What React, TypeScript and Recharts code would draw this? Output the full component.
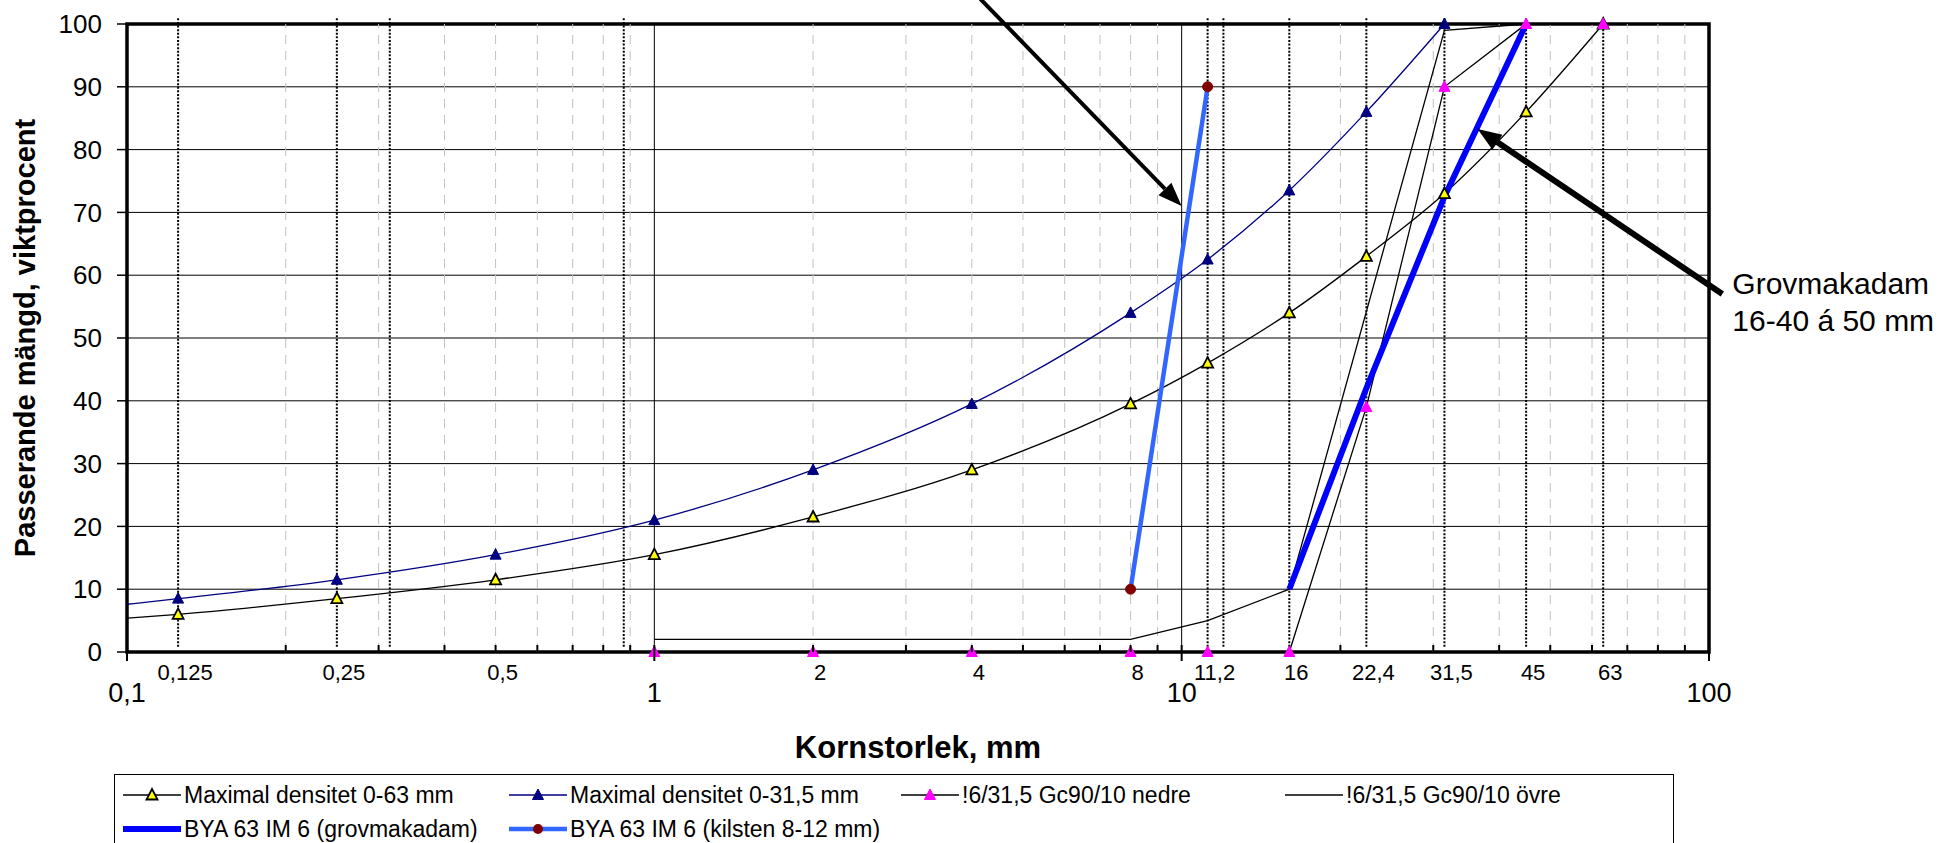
import React from 'react';
import { LineChart, Line, XAxis, YAxis, CartesianGrid, ReferenceLine, ReferenceArea, Legend, Label } from 'recharts';

const FONT = '"Liberation Sans", Arial, Helvetica, sans-serif';

// kornstorlek (mm) and passerande mängd (%)
const max63Sizes = [0.1, 0.125, 0.25, 0.5, 1, 2, 4, 8, 11.2, 16, 22.4, 31.5, 45, 63];
const max63Pass = [5.4, 6, 8.5, 11.5, 15.5, 21.5, 29, 39.5, 46, 54, 63, 73, 86, 100];

const max315Sizes = [0.1, 0.125, 0.25, 0.5, 1, 2, 4, 8, 11.2, 16, 22.4, 31.5];
const max315Pass = [7.6, 8.5, 11.5, 15.5, 21, 29, 39.5, 54, 62.5, 73.5, 86, 100];

const lowerSizes = [1, 2, 4, 8, 11.2, 16, 22.4, 31.5, 45, 63];
const lowerPass = [0, 0, 0, 0, 0, 0, 39, 90, 100, 100];

const upperSizes = [1, 2, 4, 8, 11.2, 16, 31.5, 45, 63];
const upperPass = [2, 2, 2, 2, 5, 10, 99, 100, 100];

const coarseSizes = [16, 22.4, 31.5, 45];
const coarsePass = [10, 42, 72.5, 100];

const wedgeSizes = [8, 11.2];
const wedgePass = [10, 90];

// axis ticks and guide lines
const decadeTicks = [0.1, 1, 10, 100];
const minorTicks = [0.2, 0.3, 0.4, 0.5, 0.6, 0.7, 0.8, 0.9, 2, 3, 4, 5, 6, 7, 8, 9, 20, 30, 40, 50, 60, 70, 80, 90];
const sieveLabels = [0.125, 0.25, 0.5, 2, 4, 8, 11.2, 16, 22.4, 31.5, 45, 63];
const sieveLines = [0.125, 0.25, 0.315, 0.875, 11.2, 12, 16, 22.4, 31.5, 45, 63];
const yTicks = [0, 10, 20, 30, 40, 50, 60, 70, 80, 90, 100];

const xTicks = Array.from(new Set([...decadeTicks, ...minorTicks, ...sieveLabels])).sort((a, b) => a - b);

const toPoints = (sizes: number[], pass: number[]) => sizes.map((d, i) => ({ d, p: pass[i] }));

const max63Data = toPoints(max63Sizes, max63Pass);
const max315Data = toPoints(max315Sizes, max315Pass);
const lowerData = toPoints(lowerSizes, lowerPass);
const upperData = toPoints(upperSizes, upperPass);
const coarseData = toPoints(coarseSizes, coarsePass);
const wedgeData = toPoints(wedgeSizes, wedgePass);

const fmt = (v: number) => String(v).replace('.', ',');

const triPath = (cx: number, cy: number) =>
  `M${cx},${cy - 6} L${cx + 5.5},${cy + 4.5} L${cx - 5.5},${cy + 4.5} Z`;

const triangleDot = (fill: string, stroke: string, sw = 1) => (props: any) => {
  const { cx, cy, payload, index } = props;
  // the 0,1 point only carries the curve to the border, no marker there
  if (payload && payload.d <= 0.1) return <g key={`e-${index}`} />;
  return <path key={`t-${index}`} d={triPath(cx, cy)} fill={fill} stroke={stroke} strokeWidth={sw} />;
};

const circleDot = (props: any) => {
  const { cx, cy, index } = props;
  return <circle key={`c-${index}`} cx={cx} cy={cy} r={5} fill="#800000" stroke="#800000" />;
};

const XTick = (props: any) => {
  const { x, y, payload } = props;
  const v = payload.value;
  const isDecade = decadeTicks.includes(v);
  const isMinor = minorTicks.includes(v);
  const isSieve = sieveLabels.includes(v);
  return (
    <g>
      {isDecade && <line x1={x} x2={x} y1={y - 7} y2={y + 9} stroke="#000" strokeWidth={2} />}
      {isMinor && <line x1={x} x2={x} y1={y - 7} y2={y} stroke="#000" strokeWidth={2} />}
      {isDecade && (
        <text x={x} y={y + 50} textAnchor="middle" fontSize={27} fontFamily={FONT} fill="#000">
          {fmt(v)}
        </text>
      )}
      {isSieve && (
        <text x={x + 7} y={y + 28} textAnchor="middle" fontSize={22} fontFamily={FONT} fill="#000">
          {fmt(v)}
        </text>
      )}
    </g>
  );
};

const Arrow = (props: any) => {
  const { x1, y1, x2, y2, strokeWidth, note } = props;
  const ang = Math.atan2(y2 - y1, x2 - x1);
  const len = 24;
  const half = 9;
  const bx = x2 - len * Math.cos(ang);
  const by = y2 - len * Math.sin(ang);
  const px = -Math.sin(ang) * half;
  const py = Math.cos(ang) * half;
  return (
    <g>
      <line x1={x1} y1={y1} x2={bx} y2={by} stroke="#000" strokeWidth={strokeWidth} />
      <polygon points={`${x2},${y2} ${bx + px},${by + py} ${bx - px},${by - py}`} fill="#000" />
      {note && (
        <text x={x1 + 10} y={y1} fontSize={30} fontFamily={FONT} fill="#000">
          {note.map((t: string, i: number) => (
            <tspan key={t} x={x1 + 10} dy={i === 0 ? 0 : 37}>
              {t}
            </tspan>
          ))}
        </text>
      )}
    </g>
  );
};

const legendItems = [
  { name: 'Maximal densitet 0-63 mm', color: '#000', width: 1.3, marker: 'yellow' },
  { name: 'Maximal densitet 0-31,5 mm', color: '#000080', width: 1.3, marker: 'navy' },
  { name: '!6/31,5 Gc90/10 nedre', color: '#000', width: 1.3, marker: 'magenta' },
  { name: '!6/31,5 Gc90/10 övre', color: '#000', width: 1.3, marker: 'none' },
  { name: 'BYA 63 IM 6 (grovmakadam)', color: '#0000ff', width: 6, marker: 'none' },
  { name: 'BYA 63 IM 6 (kilsten 8-12 mm)', color: '#3366ff', width: 4.5, marker: 'dot' },
];
const legendCols = [8, 394, 786, 1170];
const legendRows = [20, 54];

const LegendMarker = ({ marker }: { marker: string }) => {
  if (marker === 'yellow') return <path d={triPath(29, 10)} fill="#ffff00" stroke="#000" strokeWidth={1.8} />;
  if (marker === 'navy') return <path d={triPath(29, 10)} fill="#000080" stroke="#000080" />;
  if (marker === 'magenta') return <path d={triPath(29, 10)} fill="#ff00ff" stroke="#ff00ff" />;
  if (marker === 'dot') return <circle cx={29} cy={10} r={5} fill="#800000" />;
  return null;
};

const LegendBox = () => (
  <div
    style={{
      position: 'relative',
      width: 1560,
      height: 100,
      border: '1.5px solid #000',
      boxSizing: 'border-box',
      background: '#fff',
      fontFamily: FONT,
      fontSize: 23,
      color: '#000',
    }}
  >
    {legendItems.map((it, i) => {
      const left = legendCols[i % 4];
      const top = legendRows[Math.floor(i / 4)];
      return (
        <div key={it.name} style={{ position: 'absolute', left, top: top - 12, height: 24, display: 'flex', alignItems: 'center', whiteSpace: 'nowrap' }}>
          <svg width={58} height={20} style={{ display: 'block' }}>
            <line x1={0} x2={58} y1={10} y2={10} stroke={it.color} strokeWidth={it.width} />
            <LegendMarker marker={it.marker} />
          </svg>
          <span style={{ marginLeft: 3, lineHeight: '24px' }}>{it.name}</span>
        </div>
      );
    })}
  </div>
);

const XTitle = (props: any) => {
  const { x, y, width } = props.viewBox;
  return (
    <text x={x + width / 2} y={y + 106} textAnchor="middle" fontSize={31} fontWeight="bold" fontFamily={FONT} fill="#000">
      Kornstorlek, mm
    </text>
  );
};

const YTitle = (props: any) => {
  const { x, y, height } = props.viewBox;
  const cx = x + 35;
  const cy = y + height / 2;
  return (
    <text x={cx} y={cy} transform={`rotate(-90 ${cx} ${cy})`} textAnchor="middle" fontSize={29} fontWeight="bold" fontFamily={FONT} fill="#000">
      Passerande mängd, viktprocent
    </text>
  );
};

export default function App() {
  return (
    <div style={{ position: 'absolute', left: 0, top: 0, width: 1952, height: 843, overflow: 'hidden', background: '#fff' }}>
      <LineChart width={1952} height={843} margin={{ top: 24, right: 243, bottom: 131, left: 0 }}>
        <CartesianGrid vertical={false} stroke="#000" strokeWidth={1} />
        {minorTicks.map((v) => (
          <ReferenceLine key={`m-${v}`} x={v} stroke="#c0c0c0" strokeWidth={1} strokeDasharray="9 7" />
        ))}
        <ReferenceLine x={1} stroke="#000" strokeWidth={1} />
        <ReferenceLine x={10} stroke="#000" strokeWidth={1} />
        <XAxis
          type="number"
          dataKey="d"
          scale="log"
          domain={[0.1, 100]}
          ticks={xTicks}
          interval={0}
          height={60}
          axisLine={false}
          tickLine={false}
          tickSize={0}
          tickMargin={0}
          tick={<XTick />}
          allowDataOverflow
        >
          <Label content={XTitle} />
        </XAxis>
        <YAxis
          type="number"
          domain={[0, 100]}
          ticks={yTicks}
          interval={0}
          width={127}
          tickSize={10}
          tickMargin={15}
          axisLine={false}
          tickLine={{ stroke: '#000', strokeWidth: 1.5 }}
          tick={{ fontSize: 26, fill: '#000', fontFamily: FONT }}
        >
          <Label content={YTitle} />
        </YAxis>
        <ReferenceArea x1={0.1} x2={100} y1={0} y2={100} fill="none" stroke="#000" strokeWidth={3.5} ifOverflow="visible" />

        {sieveLines.map((v) => (
          <ReferenceLine
            key={`s-${v}`}
            segment={[{ x: v, y: 100.9 }, { x: v, y: 0.6 }]}
            ifOverflow="visible"
            stroke="#000"
            strokeWidth={2}
            strokeDasharray="2 1.6"
          />
        ))}

        <Line data={max63Data} dataKey="p" type="monotone" stroke="#000" strokeWidth={1.3} dot={triangleDot('#ffff00', '#000', 1.8)} activeDot={false} isAnimationActive={false} />
        <Line data={max315Data} dataKey="p" type="monotone" stroke="#000080" strokeWidth={1.3} dot={triangleDot('#000080', '#000080')} activeDot={false} isAnimationActive={false} />
        <Line data={lowerData} dataKey="p" type="linear" stroke="#000" strokeWidth={1.3} dot={triangleDot('#ff00ff', '#ff00ff')} activeDot={false} isAnimationActive={false} />
        <Line data={upperData} dataKey="p" type="linear" stroke="#000" strokeWidth={1.3} dot={false} activeDot={false} isAnimationActive={false} />
        <Line data={coarseData} dataKey="p" type="linear" stroke="#0000ff" strokeWidth={6} dot={false} activeDot={false} isAnimationActive={false} />
        <Line data={wedgeData} dataKey="p" type="linear" stroke="#3366ff" strokeWidth={4.5} dot={circleDot} activeDot={false} isAnimationActive={false} />

        <ReferenceLine
          segment={[{ x: 4.15, y: 104 }, { x: 10, y: 71 }]}
          ifOverflow="visible"
          shape={(p: any) => <Arrow {...p} strokeWidth={4} />}
        />
        <ReferenceLine
          segment={[{ x: 106, y: 57 }, { x: 36.4, y: 83.3 }]}
          ifOverflow="visible"
          shape={(p: any) => <Arrow {...p} strokeWidth={6} note={['Grovmakadam', '16-40 á 50 mm']} />}
        />

        <Legend
          layout="vertical"
          align="center"
          verticalAlign="middle"
          content={() => <LegendBox />}
          wrapperStyle={{ left: 114, top: 774, width: 1560, height: 100 }}
        />
      </LineChart>
    </div>
  );
}
